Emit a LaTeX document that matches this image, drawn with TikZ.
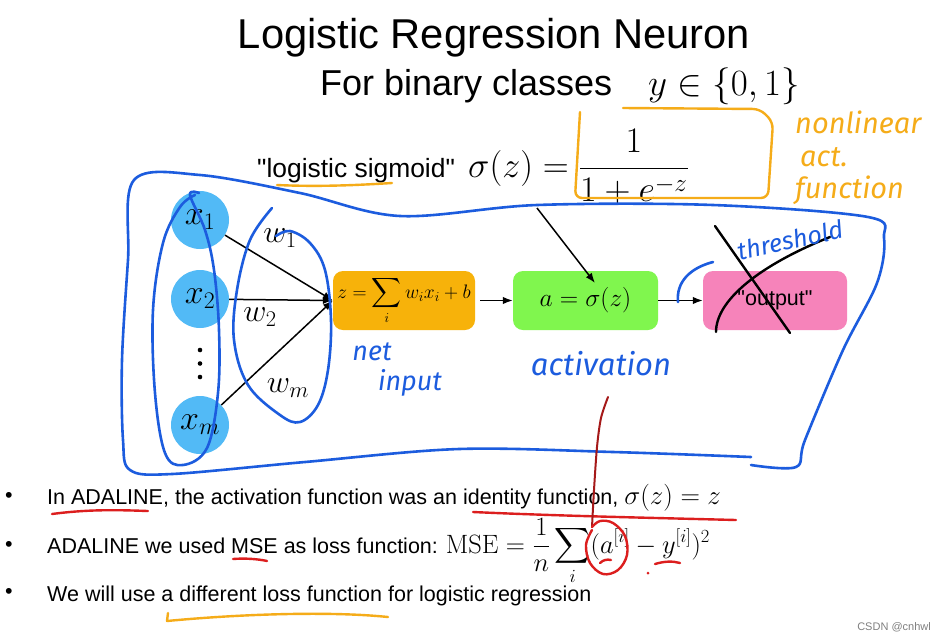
\RequirePackage{fix-cm}
\documentclass[tikz,border=0pt]{standalone}
\usepackage{exscale}
\usepackage[no-math]{fontspec}
\setmainfont{Liberation Sans}[Ligatures=TeXOff]
\newfontfamily\handfont{Fira Sans}
\usetikzlibrary{arrows.meta}
\definecolor{pen}{RGB}{28,92,222}
\definecolor{hl}{RGB}{245,172,25}
\definecolor{redpen}{RGB}{220,30,30}
\definecolor{darkred}{RGB}{165,25,25}
\definecolor{inblue}{RGB}{82,186,246}
\definecolor{zorange}{RGB}{247,178,10}
\definecolor{agreen}{RGB}{128,246,78}
\definecolor{opink}{RGB}{246,131,186}
\newcommand\fsz[1]{\fontsize{#1}{#1}\selectfont}
\tikzset{
  txt/.style={inner sep=0pt},
  incirc/.style={circle, fill=inblue, minimum size=58pt, inner sep=0pt},
  box/.style={rounded corners=10pt, minimum height=59pt, inner sep=0pt},
  arr/.style={draw=black, line width=1.5pt, -{Latex[length=10pt,width=7.5pt]}},
  bluepen/.style={draw=pen, line width=2.6pt, line cap=round, line join=round},
  hlpen/.style={draw=hl, line width=2.4pt, line cap=round, line join=round},
  redline/.style={draw=redpen, line width=2.4pt, line cap=round, line join=round},
  handtxt/.style={inner sep=0pt, font=\handfont\itshape},
  xpen/.style={draw=black, line width=2.4pt, line cap=round}
}
\begin{document}
\begin{tikzpicture}[x=1pt, y=-1pt]
\useasboundingbox[fill=white] (0,0) rectangle (947,641);

% titles
\node[txt, anchor=base] (title) at (494,48) {\fsz{41.7}Logistic Regression Neuron};
\node[txt, anchor=base west] (sub) at (320,95) {\fsz{36}For binary classes};
\node[txt, anchor=base west] (subm) at (648,95) {\fsz{37}$y\in\{0,1\}$};

% sigmoid formula
\node[txt, anchor=base west] (sigl) at (257,177) {\fsz{26.4}"logistic sigmoid"};
\node[txt, anchor=base west] (sigf) at (468,177) {\fsz{36}$\sigma(z) = \displaystyle\frac{1}{1+e^{-z}}$};

% orange annotations
\draw[hlpen] (277,185) .. controls (320,187) and (360,185) .. (392,183);
\draw[hlpen, rounded corners=7pt] (580,112) -- (575,198) -- (768,198) -- (773,122) -- (760,109) -- (623,108);
\node[handtxt, text=hl, anchor=west] (nl1) at (795,122) {\fsz{29}nonlinear};
\node[handtxt, text=hl, anchor=west] (nl2) at (800,157) {\fsz{29}act.};
\node[handtxt, text=hl, anchor=west] (nl3) at (795,190) {\fsz{29}function};

% input neurons
\node[incirc] (x1) at (200,220) {\fsz{34}$x_1$};
\node[incirc] (x2) at (200,299) {\fsz{34}$x_2$};
\node[incirc] (xm) at (200,425) {\fsz{34}$x_m$};
\fill (200,350) circle (2.3pt) (200,363.5) circle (2.3pt) (200,377) circle (2.3pt);

% boxes
\node[box, fill=zorange, minimum width=142pt] (zbox) at (404,300.5) {\fsz{19.5}$z=\displaystyle\sum_i w_i x_i+b$};
\node[box, fill=agreen, minimum width=145pt] (abox) at (585.5,300.5) {\fsz{25.5}$a=\sigma(z)$};
\node[box, fill=opink, minimum width=144pt] (obox) at (775,300.5) {\fsz{21.5}"output"};

% weights
\node[txt] (w1) at (280,238) {\fsz{32}$w_1$};
\node[txt] (w2) at (260,317) {\fsz{32}$w_2$};
\node[txt] (wm) at (288,388) {\fsz{32}$w_m$};

% connectors
\draw[arr] (x1) -- (zbox.west);
\draw[arr] (x2) -- (zbox.west);
\draw[arr] (xm) -- (zbox.west);
\draw[arr, shorten <=5pt] (zbox) -- (abox);
\draw[arr] (abox) -- (obox);
\coordinate (sigfoot) at (537,208);
\coordinate (atip) at (595,283);
\draw[arr] (sigfoot) -- (atip);

% cross over output
\draw[xpen] (715,226) -- (790,333);
\draw[xpen] (716,332) .. controls (716,300) and (760,265) .. (830,237);

% blue annotations
\draw[bluepen] plot[smooth, tension=0.55] coordinates {(751,457) (613,452) (459,449) (305,462) (172,474) (130,470) (123,440) (122,360) (128,260) (134,180) (200,175) (300,193) (400,216) (537,205) (713,205) (868,217) (884,238) (877,283) (843,350) (805,440) (796,467) (751,465)};
\draw[bluepen] plot[smooth, tension=0.6] coordinates {(199,193) (190,195) (205,230) (214,270) (219,330) (218,393) (207,448) (183,465) (165,453) (155,393) (153,310) (163,243) (180,207) (195,195)};
\draw[bluepen] plot[smooth, tension=0.6] coordinates {(272,208) (250,240) (237,290) (234,340) (248,385) (280,415) (300,422) (318,405) (328,370) (331,320) (325,270) (310,243) (290,231) (276,236)};
\draw[bluepen] (678,302) .. controls (676,282) and (690,268) .. (713,262);
\node[handtxt, text=pen] (net) at (372,352) {\fsz{27}net};
\node[handtxt, text=pen] (inp) at (410,383) {\fsz{27}input};
\node[handtxt, text=pen] (act) at (601,364) {\fsz{31}activation};
\node[handtxt, text=pen, rotate=12] (thr) at (790,240) {\fsz{25}threshold};

% bullets
\node[txt] (d1) at (9,497) {\fsz{21.5}•};
\node[txt] (d2) at (9,546) {\fsz{21.5}•};
\node[txt] (d3) at (9,593) {\fsz{21.5}•};
\node[txt, anchor=base west] (b1) at (47,504) {\fsz{21.5}In ADALINE, the activation function was an identity function, \fsz{27}$\sigma(z)=z$};
\node[txt, anchor=base west] (b2) at (47,553) {\fsz{21.5}ADALINE we used MSE as loss function: \fsz{26.5}$\mathrm{MSE}=\displaystyle\frac{1}{n}\sum_i(a^{[i]}-y^{[i]})^2$};
\node[txt, anchor=base west] (b3) at (47,601) {\fsz{21.5}We will use a different loss function for logistic regression};

% red annotations
\draw[redline] (52,514) .. controls (90,509) and (120,510) .. (148,511);
\draw[redline] (473,512) .. controls (560,516) and (660,518) .. (736,520);
\draw[redline] (233,559) .. controls (245,558) and (258,559) .. (267,561);
\draw[redline] (600,563) .. controls (603,560) and (607,559) .. (611,560);
\draw[redline] (655,564) .. controls (665,561) and (673,561) .. (680,563);
\fill[redpen] (648,573) circle (1.5pt);
\draw[draw=darkred, line width=2pt, line cap=round] plot[smooth, tension=0.5] coordinates {(608,397) (601,418) (597,447) (594,490) (592,527)};
\draw[redline] plot[smooth, tension=0.6] coordinates {(592,527) (600,521) (613,523) (625,536) (627,555) (618,570) (603,574) (590,563) (586,545) (592,530)};

% orange underline bottom
\draw[hlpen] (168,613) -- (167,621) .. controls (240,614) and (330,611) .. (388,617);

% watermark
\node[txt, anchor=east, text=gray] (mark) at (931,627) {\fsz{11}CSDN @cnhwl};
\end{tikzpicture}
\end{document}
